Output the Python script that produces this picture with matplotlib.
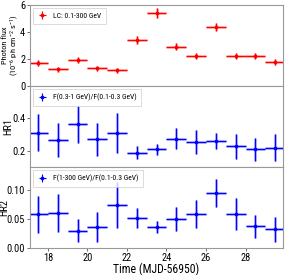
import matplotlib
matplotlib.use("Agg")
import matplotlib.pyplot as plt
import numpy as np

time = [17.5, 18.5, 19.5, 20.5, 21.5, 22.5, 23.5, 24.5, 25.5, 26.5, 27.5, 28.5, 29.5]
time_err = [0.5] * 13

flux = [1.7, 1.25, 1.95, 1.3, 1.15, 3.4, 5.4, 2.9, 2.25, 4.4, 2.25, 2.2, 1.75]
flux_err = [0.22, 0.18, 0.22, 0.2, 0.18, 0.3, 0.35, 0.25, 0.22, 0.3, 0.22, 0.22, 0.22]

hr1 = [0.31, 0.265, 0.36, 0.27, 0.31, 0.19, 0.21, 0.275, 0.255, 0.26, 0.23, 0.21, 0.22]
hr1_err = [0.11, 0.10, 0.11, 0.10, 0.12, 0.04, 0.035, 0.065, 0.07, 0.05, 0.075, 0.07, 0.08]

hr2 = [0.058, 0.06, 0.03, 0.036, 0.074, 0.051, 0.036, 0.05, 0.059, 0.094, 0.058, 0.037, 0.032]
hr2_err = [0.032, 0.032, 0.019, 0.026, 0.04, 0.017, 0.011, 0.02, 0.024, 0.024, 0.027, 0.02, 0.021]

plt.rcParams['font.family'] = ['Roboto Condensed', 'DejaVu Sans']
plt.rcParams['mathtext.fontset'] = 'custom'
plt.rcParams['mathtext.rm'] = 'Roboto Condensed'
plt.rcParams['mathtext.it'] = 'Roboto Condensed:italic'
plt.rcParams['mathtext.bf'] = 'Roboto Condensed:bold'
plt.rcParams['axes.unicode_minus'] = False

fig, axes = plt.subplots(3, 1, figsize=(2.98, 2.75), dpi=100, sharex=True)
fig.subplots_adjust(left=0.101, right=0.950, top=0.982, bottom=0.098, hspace=0)

def draw(ax, y, yerr, color, label):
    ax.errorbar(time, y, xerr=time_err, yerr=yerr, fmt='none', ecolor=color,
                elinewidth=2.2, alpha=0.3)
    ax.errorbar(time, y, xerr=time_err, yerr=yerr, fmt='s', color=color,
                ms=2, elinewidth=0.8, label=label)
    leg = ax.legend(loc='upper left', fontsize=5.5, frameon=True, handlelength=1.2,
                    borderpad=0.6, fancybox=False, borderaxespad=0.4)
    leg.get_frame().set_edgecolor('#cccccc')
    leg.get_frame().set_linewidth(0.6)
    for s in ax.spines.values():
        s.set_color('#999999')
        s.set_linewidth(0.8)
    ax.tick_params(labelsize=7.5, length=2.5, width=0.6, color='#555555', pad=1)

draw(axes[0], flux, flux_err, 'red', 'LC: 0.1-300 GeV')
draw(axes[1], hr1, hr1_err, 'blue', 'F(0.3-1 GeV)/F(0.1-0.3 GeV)')
draw(axes[2], hr2, hr2_err, 'blue', 'F(1-300 GeV)/F(0.1-0.3 GeV)')

axes[0].set_ylim(0, 6)
axes[0].set_yticks([0, 2, 4, 6])
axes[1].set_ylim(0.104, 0.59)
axes[1].set_yticks([0.2, 0.4])
axes[2].set_ylim(0, 0.139)
axes[2].set_yticks([0.0, 0.05, 0.10])
axes[2].set_yticklabels(['0.00', '0.05', '0.10'])
axes[2].set_xlim(17.1, 29.9)
axes[2].set_xticks([18, 20, 22, 24, 26, 28])

axes[0].set_ylabel('Photon flux\n(10$^{-6}$ ph cm$^{-2}$ s$^{-1}$)', fontsize=6,
                   linespacing=1.0)
axes[1].set_ylabel('HR1', fontsize=7.5)
axes[2].set_ylabel('HR2', fontsize=7.5)
axes[0].yaxis.set_label_coords(-0.036, 0.5)
axes[1].yaxis.set_label_coords(-0.066, 0.5)
axes[2].yaxis.set_label_coords(-0.082, 0.5)
axes[2].set_xlabel('Time (MJD-56950)', fontsize=8.5, labelpad=0)

fig.savefig('out.png', dpi=100)
